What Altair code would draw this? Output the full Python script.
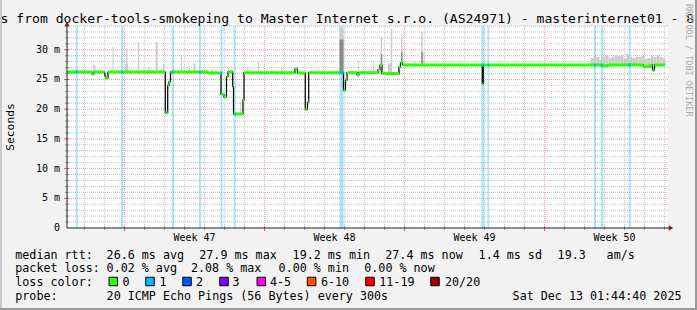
import altair as alt
import pandas as pd

# ---------------- data ----------------
# x unit: days since Sun 16 Nov 2025 00:00 (the "Week 47" major grid line)
med_start = [-2.87, -1.625, -1.525, -0.99, -0.94, -0.825, 2.04, 2.16, 2.225, 2.30,
             4.175, 4.825, 4.975, 5.10, 5.175, 5.41, 5.45, 5.925, 5.975, 8.525,
             8.65, 9.04, 9.15, 9.21, 10.95, 11.05, 11.125, 11.625, 11.725, 12.675,
             12.775, 12.875, 13.725, 13.80, 13.90, 17.89, 17.94, 23.825, 24.175, 25.925,
             26.325, 26.40, 26.50]
med_end = [-1.625, -1.525, -0.99, -0.94, -0.825, 2.04, 2.16, 2.225, 2.30, 4.175,
           4.825, 4.975, 5.10, 5.175, 5.41, 5.45, 5.925, 5.975, 8.525, 8.65,
           9.04, 9.15, 9.21, 10.95, 11.05, 11.125, 11.625, 11.725, 12.675, 12.775,
           12.875, 13.725, 13.80, 13.90, 17.89, 17.94, 23.825, 24.175, 25.925, 26.325,
           26.40, 26.50, 27.025]
med_ms = [26.26, 25.93, 26.26, 25.6, 25.25, 26.26, 19.41, 24.0, 24.6, 26.26,
          26.09, 22.5, 22.05, 25.47, 26.3, 23.8, 19.19, 21.55, 26.14, 26.8,
          26.09, 19.98, 21.2, 26.14, 23.2, 24.9, 26.14, 25.75, 26.14, 26.6,
          27.4, 26.0, 27.1, 27.8, 27.44, 24.3, 27.44, 27.3, 27.44, 27.2,
          27.44, 26.55, 27.44]

# steps with 1/20 packet loss
loss_day = [-2.39, -0.125, 2.425, 3.775, 4.85, 5.51, 10.85, 17.91, 18.19, 23.525, 23.875, 25.26]
loss_width_px = [2, 2, 2, 2, 2, 2, 4, 2.5, 1.5, 2, 2, 2]

# smoke (ping spread above the median)
smoke_day = [-1.51, -0.575, 0.11, 0.11, 0.70, 1.21, 1.61, 1.96, 2.85, 3.24, 3.50, 4.375,
             4.575, 5.81, 6.14, 6.70, 7.09, 7.84, 10.85, 11.69, 12.44, 12.85, 13.25, 13.35,
             13.86, 14.525, 14.875, 14.975,
             23.375, 23.525, 23.675, 23.825, 23.975, 24.125, 24.275, 24.425, 24.575, 24.725,
             24.875, 25.025, 25.175, 25.325, 25.475, 25.625, 25.775, 25.925, 26.075, 26.225,
             26.375, 26.525, 26.675, 26.825, 26.975]
smoke_top_ms = [27.49, 30.47, 30.19, 27.66, 31.31, 27.1, 31.31, 27.66, 29.04, 27.22, 27.69, 26.65,
                26.65, 21.26, 26.82, 28.0, 26.82, 27.1, 33.59, 28.11, 28.2, 32.07, 27.69, 33.59,
                32.24, 28.11, 33.0, 29.68,
                28.62, 28.96, 28.79, 28.28, 28.79, 29.12, 28.62, 28.79, 29.12, 28.96,
                29.12, 28.62, 29.29, 28.79, 28.62, 28.79, 28.79, 28.96, 28.45, 28.62,
                28.96, 28.79, 29.12, 28.79, 28.62]
smoke_width_px = [2, 1, 1.5, 3, 1, 1, 2, 1.5, 1, 1.5, 2, 2,
                  1, 1, 1, 1, 1, 1, 4, 1, 1, 1.5, 3, 1.5,
                  1.5, 1, 1.5, 1] + [3] * 25
smoke_dark_frac = [0, 0, 0, 0, 0, 0, 0, 0, 0, 0, 0, 0,
                   0, 0, 0, 0, 0, 0, 0.75, 0, 0, 0.4, 0, 0,
                   0.4, 0, 0.4, 0] + [0] * 25

week_day = [3.5, 10.5, 17.5, 24.5]
week_label = ["Week 47", "Week 48", "Week 49", "Week 50"]

y_tick_ms = [0, 5, 10, 15, 20, 25, 30]
y_tick_label = ["0\u00a0\u00a0", "5 m", "10 m", "15 m", "20 m", "25 m", "30 m"]

loss_color_label = ["0", "1", "2", "3", "4-5", "6-10", "11-19", "20/20"]
loss_color_hex = ["#26ff00", "#00b8ff", "#0059ff", "#7e00ff", "#ff00ff", "#ff5500", "#ff0000", "#a10000"]

rtt_label = "median rtt:"
rtt_stats = ["26.6 ms avg", "27.9 ms max", "19.2 ms min", "27.4 ms now", "1.4 ms sd", "19.3", "am/s"]
pl_label = "packet loss:"
pl_stats = ["0.02 % avg", "2.08 % max", "0.00 % min", "0.00 % now"]
lc_label = "loss color:"
probe_label = "probe:"
probe_text = "20 ICMP Echo Pings (56 Bytes) every 300s"
stamp_text = "Sat Dec 13 01:44:40 2025"
title_text = "s from docker-tools-smokeping to Master Internet s.r.o. (AS24971) - masterinternet01 - 8"
watermark = "RRDTOOL / TOBI OETIKER"
y_title = "Seconds"

# ---------------- layout ----------------
L, T, W, H = 67, 26, 601, 202
PXD = 20.0
X0 = -2.875
X1 = X0 + W / PXD
YMAX = 34.0
FONT = "DejaVu Sans Mono"

rtt_x = [16, 107.3, 200, 293.3, 386, 479.3, 558.3, 607.3]
pl_x = [16, 107.3, 191.7, 279.3, 365]
lc_box_x = [109, 145.7, 182.7, 219.7, 257, 307.3, 365.7, 430.7]
lc_text_x = [123.3, 160.3, 196.7, 233.3, 270.7, 321.7, 380, 445.7]
row_y = [258.5, 272.3, 286, 299.7]

xs = alt.Scale(domain=[X0, X1], nice=False, zero=False)
ys = alt.Scale(domain=[0, YMAX], nice=False, zero=False)


def XQ(f):
    return alt.X(f, type="quantitative", scale=xs, axis=None)


def YQ(f):
    return alt.Y(f, type="quantitative", scale=ys, axis=None)


def med_at(d):
    for s, e, v in zip(med_start, med_end, med_ms):
        if s <= d < e:
            return v
    return med_ms[-1]


one = pd.DataFrame({"a": [0]})
layers = []

# grid
minor_ms = [v for v in range(1, 35) if v % 5 != 0]
major_ms = [v for v in range(5, 31, 5)]
minor_day = [d for d in range(-2, 28) if d % 7 != 0]
major_day = [0, 7, 14, 21]
layers.append(alt.Chart(pd.DataFrame({"v": minor_ms})).mark_rule(color="#c6c6c6", strokeDash=[1, 1], strokeWidth=1)
              .encode(y=YQ("v"), x=alt.value(0), x2=alt.value(W)))
layers.append(alt.Chart(pd.DataFrame({"d": minor_day})).mark_rule(color="#c6c6c6", strokeDash=[1, 1], strokeWidth=1)
              .encode(x=XQ("d"), y=alt.value(0), y2=alt.value(H)))
layers.append(alt.Chart(pd.DataFrame({"v": major_ms})).mark_rule(color="#f0a0a0", strokeDash=[1, 1], strokeWidth=1)
              .encode(y=YQ("v"), x=alt.value(0), x2=alt.value(W)))
layers.append(alt.Chart(pd.DataFrame({"d": major_day})).mark_rule(color="#f0a0a0", strokeDash=[1, 1], strokeWidth=1)
              .encode(x=XQ("d"), y=alt.value(0), y2=alt.value(H)))

# loss bands
loss_df = pd.DataFrame({
    "x0": [d - w / 2 / PXD for d, w in zip(loss_day, loss_width_px)],
    "x1": [d + w / 2 / PXD for d, w in zip(loss_day, loss_width_px)],
    "m": [med_at(d - w / 2 / PXD - 0.01) for d, w in zip(loss_day, loss_width_px)],
})
layers.append(alt.Chart(loss_df).mark_rect(color="#00b8ff", opacity=0.35)
              .encode(x=XQ("x0"), x2="x1", y=alt.value(0), y2=alt.value(H)))

# smoke
smoke_df = pd.DataFrame({
    "x0": [d - w / 2 / PXD for d, w in zip(smoke_day, smoke_width_px)],
    "x1": [d + w / 2 / PXD for d, w in zip(smoke_day, smoke_width_px)],
    "b": [med_at(d) for d in smoke_day],
    "t": smoke_top_ms,
    "f": smoke_dark_frac,
})
smoke_df["td"] = smoke_df["b"] + (smoke_df["t"] - smoke_df["b"]) * smoke_df["f"]
layers.append(alt.Chart(smoke_df).mark_rect(color="#cccccc")
              .encode(x=XQ("x0"), x2="x1", y=YQ("b"), y2="t"))
layers.append(alt.Chart(smoke_df[smoke_df["f"] > 0]).mark_rect(color="#8a8a8a")
              .encode(x=XQ("x0"), x2="x1", y=YQ("b"), y2="td"))

# median: black connectors + green steps
pts = []
for s, e, v in zip(med_start, med_end, med_ms):
    pts.append((s, v))
    pts.append((e, v))
line_df = pd.DataFrame({"d": [p[0] for p in pts], "v": [p[1] for p in pts], "i": list(range(len(pts)))})
layers.append(alt.Chart(line_df).mark_line(color="#000000", strokeWidth=1.2)
              .encode(x=XQ("d"), y=YQ("v"), order="i:Q"))
seg_df = pd.DataFrame({"s": med_start, "e": med_end, "v": med_ms})
layers.append(alt.Chart(seg_df).mark_rule(color="#26ff00", strokeWidth=3, strokeCap="butt")
              .encode(x=XQ("s"), x2="e", y=YQ("v")))
layers.append(alt.Chart(loss_df).mark_rule(color="#00b8ff", strokeWidth=3, strokeCap="butt")
              .encode(x=XQ("x0"), x2="x1", y=YQ("m")))

# ticks
layers.append(alt.Chart(pd.DataFrame({"d": minor_day})).mark_rule(color="#a0a0a0")
              .encode(x=XQ("d"), y=alt.value(H - 2), y2=alt.value(H + 2)))
layers.append(alt.Chart(pd.DataFrame({"d": major_day})).mark_rule(color="#e06060")
              .encode(x=XQ("d"), y=alt.value(H - 2), y2=alt.value(H + 3)))
layers.append(alt.Chart(pd.DataFrame({"v": minor_ms})).mark_rule(color="#a0a0a0")
              .encode(y=YQ("v"), x=alt.value(-2), x2=alt.value(2)))
layers.append(alt.Chart(pd.DataFrame({"v": major_ms})).mark_rule(color="#e06060")
              .encode(y=YQ("v"), x=alt.value(-3), x2=alt.value(2)))

# axis lines + arrows
layers.append(alt.Chart(one).mark_rule(color="#202020", strokeWidth=1)
              .encode(x=alt.value(0), x2=alt.value(W + 3), y=alt.value(H)))
layers.append(alt.Chart(one).mark_rule(color="#202020", strokeWidth=1)
              .encode(x=alt.value(0), y=alt.value(-2), y2=alt.value(H)))
layers.append(alt.Chart(one).mark_point(shape="triangle-right", filled=True, color="#8b1a1a", size=28, opacity=1)
              .encode(x=alt.value(W + 3), y=alt.value(H)))
layers.append(alt.Chart(one).mark_point(shape="triangle-up", filled=True, color="#8b1a1a", size=28, opacity=1)
              .encode(x=alt.value(0), y=alt.value(-2)))

# axis labels
layers.append(alt.Chart(pd.DataFrame({"v": y_tick_ms, "t": y_tick_label}))
              .mark_text(font=FONT, fontSize=10, align="right", baseline="middle", color="#000000")
              .encode(y=YQ("v"), x=alt.value(-7), text="t:N"))
layers.append(alt.Chart(pd.DataFrame({"d": week_day, "t": week_label}))
              .mark_text(font=FONT, fontSize=10, align="center", baseline="alphabetic", color="#000000")
              .encode(x=XQ("d"), y=alt.value(H + 13), text="t:N"))

# free text in pixel coordinates
txt = []
txt.append((rtt_x[0], row_y[0], rtt_label))
for x, s in zip(rtt_x[1:], rtt_stats):
    txt.append((x, row_y[0], s))
txt.append((pl_x[0], row_y[1], pl_label))
for x, s in zip(pl_x[1:], pl_stats):
    txt.append((x, row_y[1], s))
txt.append((16, row_y[2], lc_label))
for x, s in zip(lc_text_x, loss_color_label):
    txt.append((x, row_y[2], s))
txt.append((16, row_y[3], probe_label))
txt.append((107.3, row_y[3], probe_text))
txt.append((513.3, row_y[3], stamp_text))
txt_df = pd.DataFrame({"px": [a[0] - L - 0.7 for a in txt], "py": [a[1] - T for a in txt], "t": [a[2] for a in txt]})
layers.append(alt.Chart(txt_df).mark_text(font=FONT, fontSize=11.7, align="left", baseline="alphabetic", color="#000000")
              .encode(x=alt.X("px:Q", scale=None, axis=None), y=alt.Y("py:Q", scale=None, axis=None), text="t:N"))

box_df = pd.DataFrame({"px": [x + 4.3 - L for x in lc_box_x], "py": [281.5 - T] * len(lc_box_x), "c": loss_color_hex})
layers.append(alt.Chart(box_df).mark_square(size=72, filled=True, stroke="#000000", strokeWidth=1, opacity=1)
              .encode(x=alt.X("px:Q", scale=None, axis=None), y=alt.Y("py:Q", scale=None, axis=None),
                      fill=alt.Fill("c:N", scale=None)))

layers.append(alt.Chart(one).mark_text(font=FONT, fontSize=13.1, align="left", baseline="alphabetic", color="#000000",
                                       text=title_text)
              .encode(x=alt.value(0.5 - L), y=alt.value(23 - T)))
layers.append(alt.Chart(one).mark_text(font=FONT, fontSize=11.3, align="center", baseline="middle", color="#000000",
                                       angle=270, text=y_title)
              .encode(x=alt.value(10.5 - L), y=alt.value(H / 2)))
layers.append(alt.Chart(one).mark_text(font=FONT, fontSize=8.5, align="left", baseline="middle", color="#ababab",
                                       angle=90, text=watermark)
              .encode(x=alt.value(689 - L), y=alt.value(4 - T)))

# image border shading
layers.append(alt.Chart(one).mark_rule(color="#cbcbcb", strokeWidth=2)
              .encode(x=alt.value(1 - L), y=alt.value(-T), y2=alt.value(310 - T)))
layers.append(alt.Chart(one).mark_rule(color="#9a9a9a", strokeWidth=2)
              .encode(x=alt.value(696 - L), y=alt.value(-T), y2=alt.value(310 - T)))
layers.append(alt.Chart(one).mark_rule(color="#9a9a9a", strokeWidth=2)
              .encode(y=alt.value(309 - T), x=alt.value(-L), x2=alt.value(697 - L)))

chart = alt.layer(*layers).resolve_scale(x="independent", y="independent").properties(
    width=W, height=H, autosize="none",
    padding={"left": L, "top": T, "right": 697 - L - W, "bottom": 310 - T - H},
    background="#f2f2f2",
).configure_view(fill="#ffffff", stroke=None)

chart.save("out.html", embed_options={"renderer": "svg", "actions": False})
